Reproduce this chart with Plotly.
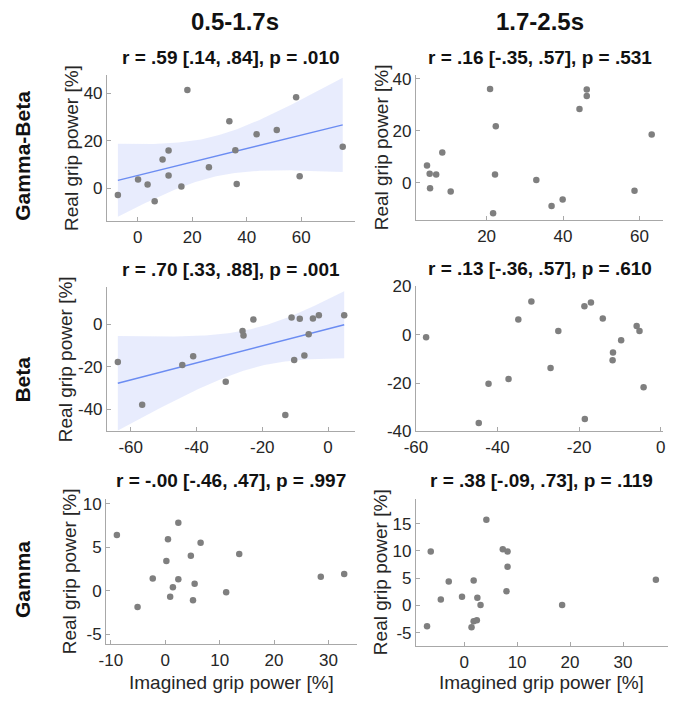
import numpy as np
import plotly.graph_objects as go

# ---------------- data ----------------
# Row 1: Gamma-Beta, 0.5-1.7s
gb1_x = [-7.3, 0.1, 3.6, 6.2, 9.1, 11.3, 11.3, 16.0, 18.2, 26.1, 33.6, 35.8, 36.3, 43.6, 51.0, 58.1, 59.4, 75.2]
gb1_y = [-2.8, 3.7, 1.6, -5.4, 12.2, 16.0, 5.4, 0.8, 41.5, 8.9, 28.3, 16.1, 1.9, 22.8, 24.6, 38.4, 5.1, 17.5]
# Row 1: Gamma-Beta, 1.7-2.5s
gb2_x = [4.4, 5.1, 6.8, 5.2, 8.4, 10.6, 20.9, 22.4, 22.2, 21.7, 33.0, 37.0, 39.9, 44.3, 46.2, 46.2, 58.7, 63.2]
gb2_y = [6.6, 3.4, 3.1, -2.1, 11.6, -3.4, 36.0, 21.7, 3.1, -11.7, 1.0, -9.0, -6.5, 28.3, 35.8, 33.3, -3.1, 18.5]
# Row 2: Beta, 0.5-1.7s
b1_x = [-63.9, -56.5, -44.3, -41.0, -31.1, -26.0, -25.7, -22.7, -13.0, -11.1, -10.3, -8.6, -7.2, -5.9, -4.6, -2.8, 4.9]
b1_y = [-17.7, -37.9, -19.2, -15.1, -27.0, -3.2, -5.3, 2.3, -42.7, 3.2, -16.8, 2.6, -14.7, -4.7, 2.7, 4.3, 4.3]
# Row 2: Beta, 1.7-2.5s
b2_x = [-57.5, -44.6, -42.2, -37.3, -34.9, -31.7, -27.0, -25.1, -18.7, -18.6, -17.1, -14.2, -11.7, -11.8, -9.7, -5.9, -5.2, -4.2]
b2_y = [-1.1, -36.5, -20.3, -18.3, 6.3, 13.7, -13.8, 1.5, 11.8, -34.9, 13.3, 6.7, -7.4, -10.6, -2.3, 3.6, 1.5, -21.7]
# Row 3: Gamma, 0.5-1.7s
g1_x = [-8.9, -5.1, -2.3, 0.2, 0.5, 0.9, 1.4, 2.4, 2.4, 4.7, 5.1, 5.4, 6.5, 11.2, 13.6, 28.6, 32.9]
g1_y = [6.4, -1.9, 1.4, 3.4, 5.9, -0.7, 0.4, 7.8, 1.3, 4.0, -1.1, 0.8, 5.5, -0.2, 4.2, 1.6, 1.9]
# Row 3: Gamma, 1.7-2.5s
g2_x = [-7.0, -6.3, -4.4, -2.9, -0.4, 1.4, 1.8, 1.8, 2.4, 2.5, 3.1, 4.2, 7.3, 8.2, 8.2, 8.0, 18.5, 36.2]
g2_y = [-3.8, 9.9, 1.1, 4.4, 1.6, -4.0, -2.9, 4.6, -2.7, 1.4, 0.1, 15.7, 10.3, 9.9, 7.1, 2.6, 0.1, 4.7]

titles = [
    "r = .59 [.14, .84], p = .010", "r = .16 [-.35, .57], p = .531",
    "r = .70 [.33, .88], p = .001", "r = .13 [-.36, .57], p = .610",
    "r = -.00 [-.46, .47], p = .997", "r = .38 [-.09, .73], p = .119",
]
col_titles = ["0.5-1.7s", "1.7-2.5s"]
row_titles = ["Gamma-Beta", "Beta", "Gamma"]
ylabel = "Real grip power [%]"
xlabel = "Imagined grip power [%]"

x_ticks = [[0, 20, 40, 60], [20, 40, 60], [-60, -40, -20, 0], [-60, -40, -20, 0],
           [-10, 0, 10, 20, 30], [0, 10, 20, 30]]
y_ticks = [[0, 20, 40], [0, 20, 40], [-40, -20, 0], [-40, -20, 0, 20],
           [-5, 0, 5, 10], [-5, 0, 5, 10, 15]]
x_ranges = [[-11.3, 79.6], [1.5, 66.2], [-67.2, 8.1], [-60, 0.6], [-10.9, 35.2], [-9.1, 38.5]]
y_ranges = [[-13.8, 47.7], [-14.4, 41.3], [-50.4, 17.4], [-40, 20], [-6.2, 10.6], [-7.5, 19.6]]
show_fit = [True, False, True, False, False, False]
show_ylabel = [True, True, True, False, True, True]
show_xlabel = [False, False, False, False, True, True]
ylabel_off = [37, 35, 43, 0, 37, 36]

series = [(gb1_x, gb1_y), (gb2_x, gb2_y), (b1_x, b1_y), (b2_x, b2_y), (g1_x, g1_y), (g2_x, g2_y)]

# ---------------- layout geometry (pixels) ----------------
W, H = 673, 708
panel_px = [  # (left, right, top, bottom)
    (97, 350, 68, 218), (412.5, 665, 68, 217),
    (97, 350, 286, 434), (412.5, 665, 285, 434),
    (96, 352, 503, 653), (412.5, 670, 503, 655),
]

T_CRIT99 = {15: 2.947, 16: 2.921}

GRAY_PT = "#7f7f7f"
LINE_C = "#6b8cf2"
BAND_C = "rgba(200,210,250,0.42)"
AX_C = "#a8a8a8"
TXT_C = "#262626"
FONT = "Liberation Sans, Arial, sans-serif"
TICK_SIZE = 17

fig = go.Figure()
annotations = []

for i, (xs, ys) in enumerate(series):
    n = "" if i == 0 else str(i + 1)
    xa, ya = "x" + n, "y" + n
    x0, x1, y0, y1 = panel_px[i]
    xdom = [x0 / W, x1 / W]
    ydom = [1 - y1 / H, 1 - y0 / H]

    if show_fit[i]:
        xv = np.array(xs, float)
        yv = np.array(ys, float)
        N = len(xv)
        b, a = np.polyfit(xv, yv, 1)
        res = yv - (a + b * xv)
        s = np.sqrt(np.sum(res ** 2) / (N - 2))
        xm = xv.mean()
        sxx = np.sum((xv - xm) ** 2)
        xg = np.linspace(xv.min(), xv.max(), 120)
        yg = a + b * xg
        se = s * np.sqrt(1.0 / N + (xg - xm) ** 2 / sxx)
        t = T_CRIT99.get(N - 2, 2.92)
        up, lo = yg + t * se, yg - t * se
        fig.add_trace(go.Scatter(
            x=np.concatenate([xg, xg[::-1]]), y=np.concatenate([up, lo[::-1]]),
            fill="toself", fillcolor=BAND_C, line=dict(width=0), mode="lines",
            hoverinfo="skip", showlegend=False, xaxis=xa, yaxis=ya))
        fig.add_trace(go.Scatter(x=xg, y=yg, mode="lines", line=dict(color=LINE_C, width=1.4),
                                 showlegend=False, xaxis=xa, yaxis=ya))

    fig.add_trace(go.Scatter(x=xs, y=ys, mode="markers",
                             marker=dict(color=GRAY_PT, size=6.5, line=dict(width=0)),
                             showlegend=False, xaxis=xa, yaxis=ya, cliponaxis=False))

    axis_common = dict(showline=True, linecolor=AX_C, linewidth=1, showgrid=False, zeroline=False,
                       ticks="inside", ticklen=4, tickcolor=AX_C, tickwidth=1,
                       ticklabeloverflow="allow",
                       tickfont=dict(family=FONT, size=TICK_SIZE, color=TXT_C))
    fig.layout["xaxis" + n] = dict(domain=xdom, range=x_ranges[i], anchor=ya,
                                   tickvals=x_ticks[i], ticktext=[str(v) for v in x_ticks[i]],
                                   **axis_common)
    fig.layout["yaxis" + n] = dict(domain=ydom, range=y_ranges[i], anchor=xa,
                                   tickvals=y_ticks[i], ticktext=[str(v) for v in y_ticks[i]],
                                   **axis_common)

    # panel title
    annotations.append(dict(text="<b>%s</b>" % titles[i], x=(x0 + x1) / 2 / W, y=1 - (y0 - 18) / H,
                            xref="paper", yref="paper", showarrow=False, xanchor="center",
                            yanchor="middle", font=dict(family=FONT, size=19, color="#111")))
    if show_ylabel[i]:
        annotations.append(dict(text=ylabel, x=(x0 - ylabel_off[i]) / W, y=1 - (y0 + y1) / 2 / H,
                                xref="paper", yref="paper", showarrow=False, textangle=-90,
                                xanchor="center", yanchor="middle",
                                font=dict(family=FONT, size=19, color=TXT_C)))
    if show_xlabel[i]:
        annotations.append(dict(text=xlabel, x=(x0 + x1) / 2 / W, y=1 - 692 / H,
                                xref="paper", yref="paper", showarrow=False,
                                xanchor="center", yanchor="middle",
                                font=dict(family=FONT, size=19, color=TXT_C)))

col_cx = [228, 539]
for c, t in enumerate(col_titles):
    annotations.append(dict(text="<b>%s</b>" % t, x=col_cx[c] / W, y=1 - 13 / H, xref="paper",
                            yref="paper", showarrow=False, xanchor="center", yanchor="middle",
                            font=dict(family=FONT, size=24, color="#111")))
row_cy = [151, 381, 586]
for r, t in enumerate(row_titles):
    annotations.append(dict(text="<b>%s</b>" % t, x=11 / W, y=1 - row_cy[r] / H, xref="paper",
                            yref="paper", showarrow=False, textangle=-90, xanchor="center",
                            yanchor="middle", font=dict(family=FONT, size=21, color="#111")))

fig.update_layout(width=W, height=H, margin=dict(l=0, r=0, t=0, b=0),
                  paper_bgcolor="white", plot_bgcolor="white", annotations=annotations,
                  showlegend=False, hovermode=False)

fig.write_html("out.html", config={"displayModeBar": False, "staticPlot": True},
               post_script=("document.documentElement.style.overflow='hidden';"
                            "document.body.style.margin='0px';"
                            "document.body.style.overflow='hidden';"))
